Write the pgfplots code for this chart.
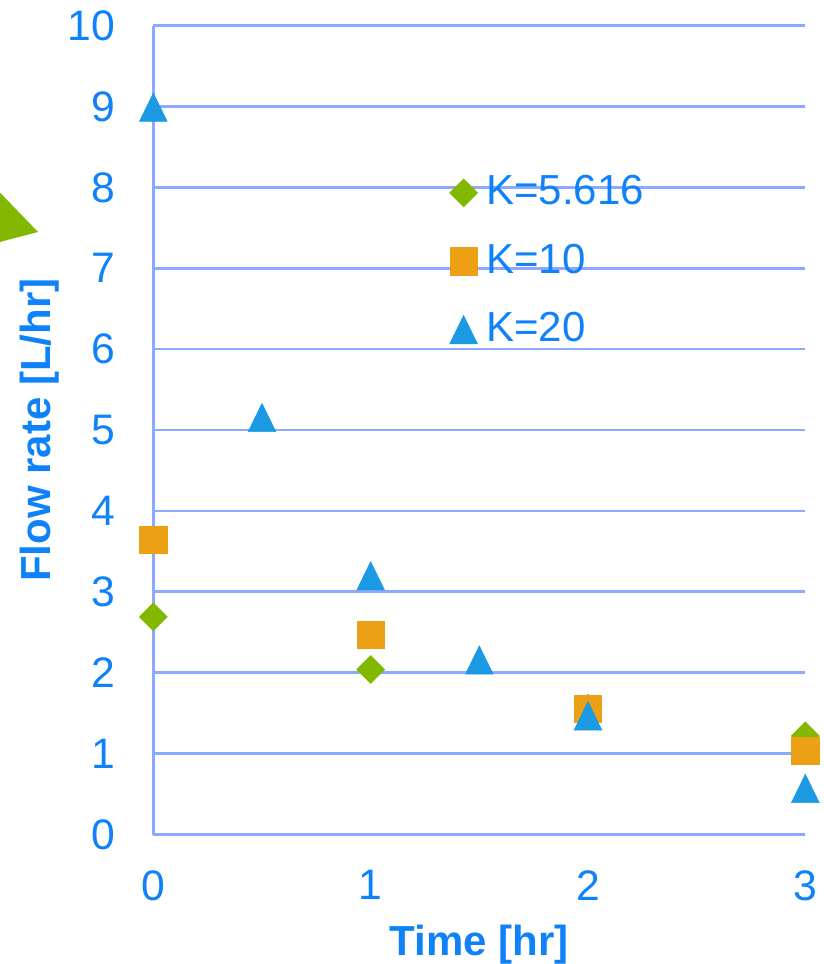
\documentclass[border=0pt]{standalone}
\usepackage{fontspec}
\setmainfont{Liberation Sans}
\usepackage{pgfplots}
\pgfplotsset{compat=1.18}
\definecolor{txtblue}{RGB}{15,130,250}
\definecolor{gridblue}{RGB}{140,168,255}
\definecolor{mgreen}{RGB}{130,185,0}
\definecolor{morange}{RGB}{235,160,22}
\definecolor{mblue}{RGB}{27,153,226}
\begin{document}
\begin{tikzpicture}
\useasboundingbox (-115pt,-97.1pt) rectangle (503pt,625.9pt);
\clip (-115pt,-97.1pt) rectangle (503pt,625.9pt);
\fill[mgreen] (-130pt,497pt) -- (-86.5pt,451.9pt) -- (-130pt,440.5pt) -- cycle;
\begin{axis}[
  anchor=origin, at={(0pt,0pt)},
  scale only axis, width=489pt, height=606.75pt,
  xmin=0, xmax=3, ymin=0, ymax=10,
  clip=false,
  axis lines*=left,
  axis line style={gridblue, line width=2pt, -},
  ymajorgrids, grid style={gridblue, line width=2pt},
  major tick length=0pt,
  xtick={0,1,2,3}, ytick={0,1,...,10},
  ticklabel style={font=\fontsize{32}{36}\selectfont, text=txtblue},
  /pgf/number format/assume math mode=true,
  yticklabel style={anchor=east, inner sep=0pt, xshift=-28.7pt},
  xticklabel style={anchor=north, inner sep=0pt, yshift=-26.6pt},
  xlabel={Time [hr]}, ylabel={Flow rate [L/hr]},
  label style={font=\bfseries\fontsize{31.5}{36}\selectfont, text=txtblue, inner sep=0pt},
  xlabel style={at={(rel axis cs:0.5,-0.149)}, anchor=base},
  ylabel style={at={(rel axis cs:-0.1745,0.5)}, anchor=center},
  legend style={at={(0.454,0.8152)}, anchor=north west, draw=none, fill=none,
    inner sep=0pt, font=\fontsize{31.5}{36}\selectfont, text=txtblue,
    row sep=27.6pt, column sep=6.5pt, nodes={inner sep=0pt}},
  legend cell align=left,
  legend image code/.code={\draw[#1] plot coordinates {(0pt,-1.5pt)};},
]
\addplot[only marks, mark=diamond*, mark size=10.5pt,
  mark options={fill=mgreen, draw=mgreen, xscale=1.333}]
  coordinates {(0,2.69) (1,2.04) (2,1.56) (3,1.22)};
\addlegendentry{K=5.616}
\addplot[only marks, mark=square*, mark size=10.3pt,
  mark options={fill=morange, draw=morange}]
  coordinates {(0,3.645) (1,2.47) (2,1.555) (3,1.035)};
\addlegendentry{K=10}
\addplot[only marks, mark=triangle*, mark size=12pt,
  mark options={fill=mblue, draw=mblue, yshift=-3.53pt, yscale=1.18}]
  coordinates {(0,8.99) (0.5,5.154) (1,3.198) (1.5,2.157) (2,1.467) (3,0.57)};
\addlegendentry{K=20}
\end{axis}
\end{tikzpicture}
\end{document}
